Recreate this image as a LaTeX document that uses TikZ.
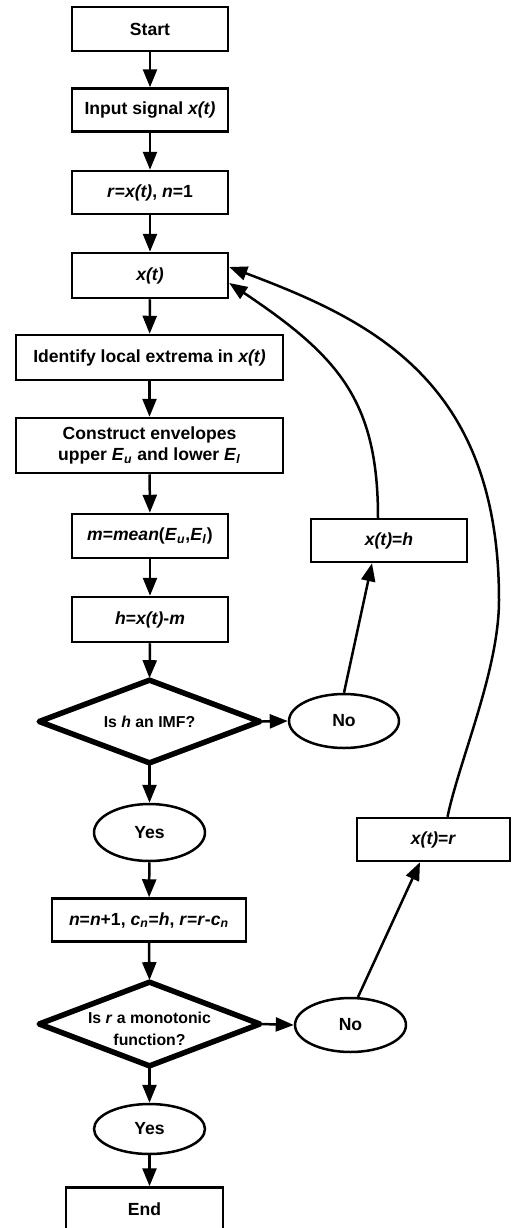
\documentclass[tikz,border=0pt]{standalone}
\usepackage{fontspec}
\setmainfont{Liberation Sans}
\usetikzlibrary{shapes.geometric,arrows.meta,calc}
\begin{document}
\begin{tikzpicture}[x=0.02cm,y=-0.02cm,
  every node/.style={font=\fontsize{10}{12}\selectfont\bfseries, align=center, inner sep=0pt},
  box/.style={draw, line width=0.05cm, rectangle},
  decarea/.style={rectangle, font=\fontsize{9}{12.5}\selectfont\bfseries},
  decline/.style={line width=0.11cm, line join=round},
  oval/.style={draw, line width=0.05cm, ellipse},
  arr/.style={line width=0.05cm, -{Triangle[length=0.36cm,width=0.28cm]}}]
\useasboundingbox (0,0) rectangle (511,1228);
\newcommand{\vv}[1]{\textit{#1}}
% main column
\node[box, minimum width=3.12cm, minimum height=0.88cm] (start) at (150,29) {Start};
\node[box, minimum width=3.12cm, minimum height=0.86cm] (inp) at (150,110) {Input signal \vv{x(t)}};
\node[box, minimum width=3.12cm, minimum height=0.86cm] (init) at (150,192.5) {\vv{r}=\vv{x(t)}, \vv{n}=1};
\node[box, minimum width=3.12cm, minimum height=0.9cm] (x) at (150,275.5) {\vv{x(t)}};
\node[box, minimum width=5.34cm, minimum height=0.9cm] (ident) at (149.5,357.5) {Identify local extrema in \vv{x(t)}};
\node[box, minimum width=5.34cm, minimum height=1.1cm] (env) at (149.5,445.5) {Construct envelopes\\upper \vv{E}\textsubscript{\vv{u}} and lower \vv{E}\textsubscript{\vv{l}}};
\node[box, minimum width=3.12cm, minimum height=0.88cm] (mean) at (150,536) {\vv{m}=\vv{mean}(\vv{E}\textsubscript{\vv{u}},\vv{E}\textsubscript{\vv{l}})};
\node[box, minimum width=3.12cm, minimum height=0.9cm] (hx) at (150,619.5) {\vv{h}=\vv{x(t)}-\vv{m}};
\node[decarea, minimum width=4.4cm, minimum height=1.64cm] (d1) at (149.5,721.5) {Is \vv{h} an IMF?};
\draw[decline] (d1.north) -- (d1.east) -- (d1.south) -- (d1.west) -- cycle;
\node[oval, minimum width=2.2cm, minimum height=1.08cm] (no1) at (344,721) {No};
\node[oval, minimum width=2.22cm, minimum height=1.14cm] (yes1) at (149.5,832.5) {Yes};
\node[box, minimum width=3.12cm, minimum height=0.86cm] (xh) at (389,540.5) {\vv{x(t)}=\vv{h}};
\node[box, minimum width=3.06cm, minimum height=0.86cm] (xr) at (433.5,839.5) {\vv{x(t)}=\vv{r}};
\node[box, minimum width=3.88cm, minimum height=0.86cm] (upd) at (149,920) {\vv{n}=\vv{n}+1, \vv{c}\textsubscript{\vv{n}}=\vv{h}, \vv{r}=\vv{r}-\vv{c}\textsubscript{\vv{n}}};
\node[decarea, minimum width=4.4cm, minimum height=1.66cm] (d2) at (149.5,1024) {\rule{0pt}{0.42cm}Is \vv{r} a monotonic\\function?};
\draw[decline] (d2.north) -- (d2.east) -- (d2.south) -- (d2.west) -- cycle;
\node[oval, minimum width=2.22cm, minimum height=1.08cm] (no2) at (350.5,1025) {No};
\node[oval, minimum width=2.22cm, minimum height=1.0cm] (yes2) at (149.5,1129) {Yes};
\node[box, minimum width=3.14cm, minimum height=0.86cm] (end) at (144.5,1209) {End};
% vertical connectors
\draw[arr] (start) -- (inp);
\draw[arr] (inp) -- (init);
\draw[arr] (init) -- (x);
\draw[arr] (x) -- (ident);
\draw[arr] (ident) -- (env);
\draw[arr] (env) -- (mean);
\draw[arr] (mean) -- (hx);
\draw[arr] (hx.south) -- ($(d1.north)+(0,-2)$);
\draw[arr] ($(d1.south)+(0,2)$) -- (yes1.north);
\draw[arr] (yes1) -- (upd);
\draw[arr] (upd.south) -- ($(d2.north)+(0,-2)$);
\draw[arr] ($(d2.south)+(0,2)$) -- (yes2.north);
\draw[arr] (yes2.south) -- (yes2.south |- end.north);
% decision branches
\draw[arr] ($(d1.east)+(2,0)$) -- (no1.west);
\draw[arr] ($(d2.east)+(2,0)$) -- (no2.west);
\draw[arr] (no1.north) -- ($(xh.south)+(-17,0)$);
\draw[arr] (no2.75) -- ($(xr.south)+(-13.5,0)$);
% loops back
\draw[arr] ($(xh.north)+(-11,0)$) .. controls (378,400) and (338,356) .. ($(x.east)+(0,7.5)$);
\coordinate (bend) at (499,600);
\draw[arr] ($(xr.north)+(14,0)$) .. controls (460,758) and (499,670) .. (bend)
  .. controls (499,380) and (370,320) .. ($(x.east)+(0,-8.5)$);
\end{tikzpicture}
\end{document}
